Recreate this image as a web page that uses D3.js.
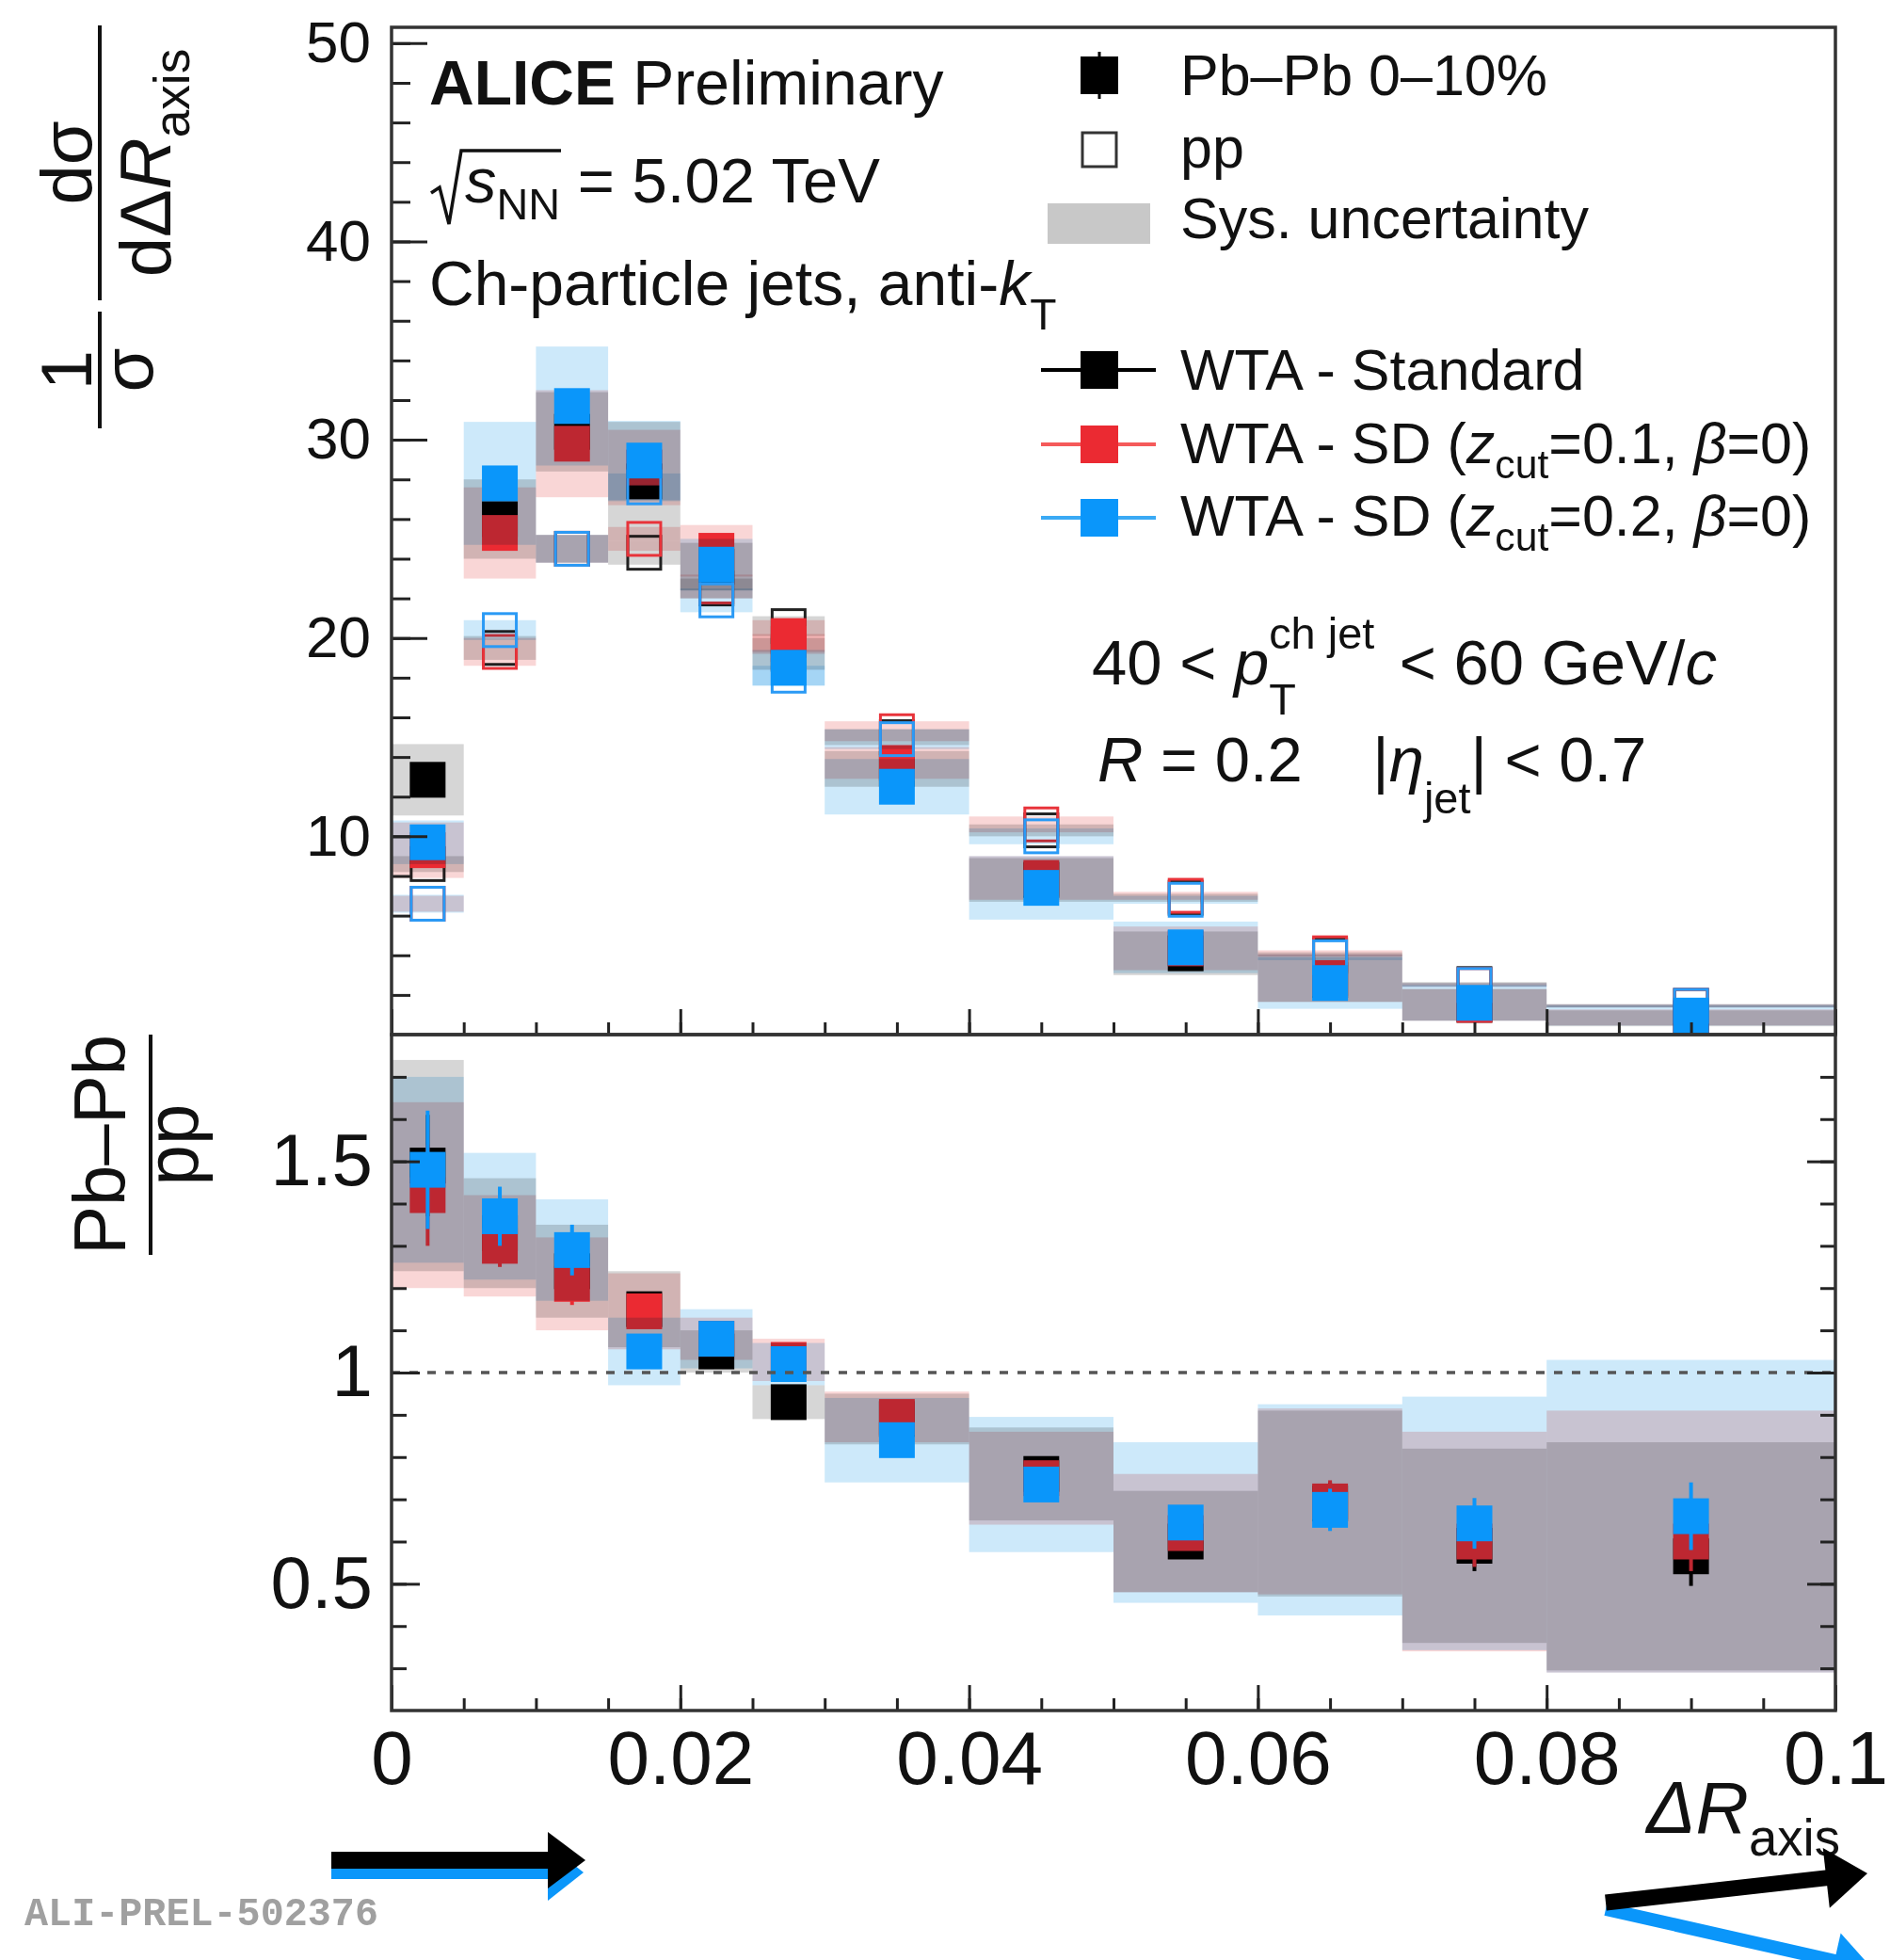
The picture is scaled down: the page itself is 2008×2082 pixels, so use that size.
<!DOCTYPE html>
<html>
<head>
<meta charset="utf-8">
<script src="https://cdn.jsdelivr.net/npm/d3@7"></script>
<style>
  body { margin: 0; background: #fff; }
  svg text { font-family: "Liberation Sans", Arial, Helvetica, sans-serif; fill: #111; white-space: pre; }
</style>
</head>
<body>
<script>
// bin edges in Delta R_axis
var binEdges = [0, 0.005, 0.01, 0.015, 0.02, 0.025, 0.03, 0.04, 0.05, 0.06, 0.07, 0.08, 0.1];

// Pb-Pb 0-10% distributions (1/sigma dsigma/dDeltaR)
var pbpbStd = [12.85, 26.0, 30.4, 27.9, 23.6, 19.2, 13.4, 7.8, 4.1, 2.75, 1.5, 0.82];
var pbpbSD1 = [9.3, 25.3, 29.8, 28.6, 24.4, 20.1, 13.7, 7.9, 4.35, 2.85, 1.5, 0.87];
var pbpbSD2 = [9.7, 27.8, 31.7, 28.95, 23.7, 18.5, 12.5, 7.4, 4.4, 2.6, 1.6, 0.96];
var pbpbStdSys = [1.8, 2.0, 2.0, 3.0, 1.2, 0.8, 0.9, 1.1, 1.1, 1.1, 0.8, 0.4];
var pbpbSD1Sys = [1.4, 2.3, 2.7, 1.9, 1.3, 0.8, 0.8, 1.1, 1.1, 1.2, 0.8, 0.4];
var pbpbSD2Sys = [1.1, 3.1, 3.0, 2.0, 1.3, 0.9, 1.4, 1.6, 1.3, 1.3, 0.9, 0.5];

// pp distributions
var ppStd = [8.6, 19.5, 24.5, 24.3, 22.5, 20.6, 15.0, 10.3, 6.9, 4.0, 2.55, 1.45];
var ppSD1 = [6.6, 19.3, 24.5, 25.0, 22.6, 19.7, 15.3, 10.6, 7.0, 4.1, 2.5, 1.45];
var ppSD2 = [6.6, 20.4, 24.5, 27.6, 21.9, 18.1, 14.9, 10.0, 6.8, 3.9, 2.5, 1.45];
var ppStdSys = [0.4, 0.6, 0.7, 0.6, 0.5, 0.5, 0.4, 0.3, 0.2, 0.15, 0.1, 0.08];
var ppSD1Sys = [0.4, 0.7, 0.7, 0.6, 0.6, 0.5, 0.5, 0.4, 0.2, 0.15, 0.1, 0.08];
var ppSD2Sys = [0.45, 0.5, 0.7, 0.7, 0.6, 0.5, 0.5, 0.4, 0.2, 0.15, 0.1, 0.08];

// Pb-Pb / pp ratios
var ratioStd = [1.49, 1.33, 1.24, 1.15, 1.05, 0.93, 0.89, 0.76, 0.60, 0.69, 0.59, 0.565];
var ratioSD1 = [1.42, 1.30, 1.21, 1.145, 1.08, 1.03, 0.895, 0.75, 0.62, 0.695, 0.60, 0.60];
var ratioSD2 = [1.48, 1.37, 1.29, 1.05, 1.08, 1.02, 0.84, 0.735, 0.645, 0.675, 0.643, 0.66];
var ratioStdSys = [0.25, 0.13, 0.11, 0.09, 0.05, 0.04, 0.06, 0.11, 0.12, 0.22, 0.23, 0.27];
var ratioSD1Sys = [0.22, 0.12, 0.11, 0.09, 0.05, 0.05, 0.06, 0.11, 0.14, 0.22, 0.26, 0.31];
var ratioSD2Sys = [0.22, 0.15, 0.12, 0.08, 0.07, 0.05, 0.10, 0.16, 0.19, 0.25, 0.30, 0.37];
var ratioStdStat = [0.12, 0.05, 0.05, 0.03, 0.02, 0.02, 0.02, 0.03, 0.04, 0.05, 0.06, 0.07];
var ratioSD1Stat = [0.12, 0.05, 0.05, 0.03, 0.02, 0.02, 0.02, 0.03, 0.04, 0.05, 0.06, 0.07];
var ratioSD2Stat = [0.14, 0.07, 0.06, 0.03, 0.02, 0.02, 0.02, 0.03, 0.04, 0.05, 0.06, 0.08];

// tick labels
var xTickLabels = [0, 0.02, 0.04, 0.06, 0.08, 0.1];
var yTopTickLabels = [10, 20, 30, 40, 50];
var yRatTickLabels = [0.5, 1, 1.5];

var W = 2008, H = 2082;
var frame = { left: 416, right: 1950, top: 29, mid: 1099, bottom: 1817 };
var M = 38; // marker size

var x = d3.scaleLinear().domain([0, 0.1]).range([frame.left, frame.right]);
var yTop = d3.scaleLinear().domain([0, 50.8]).range([frame.mid, frame.top]);
var yRat = d3.scaleLinear().domain([0.2, 1.8]).range([frame.bottom, frame.mid]);

var series = [
  { color: "#000000", open: "#222222", sys: "#d6d6d6",
    pbpb: pbpbStd, pbpbSys: pbpbStdSys, pp: ppStd, ppSys: ppStdSys,
    ratio: ratioStd, ratioSys: ratioStdSys, ratioStat: ratioStdStat },
  { color: "#eb2a32", open: "#e8333a", sys: "#f9d6d6",
    pbpb: pbpbSD1, pbpbSys: pbpbSD1Sys, pp: ppSD1, ppSys: ppSD1Sys,
    ratio: ratioSD1, ratioSys: ratioSD1Sys, ratioStat: ratioSD1Stat },
  { color: "#0a96fa", open: "#2a9af5", sys: "#cde9fa",
    pbpb: pbpbSD2, pbpbSys: pbpbSD2Sys, pp: ppSD2, ppSys: ppSD2Sys,
    ratio: ratioSD2, ratioSys: ratioSD2Sys, ratioStat: ratioSD2Stat }
];

var svg = d3.select("body").append("svg")
  .attr("width", W).attr("height", H)
  .style("background", "#fff");

var defs = svg.append("defs");
defs.append("clipPath").attr("id", "clipTop").append("rect")
  .attr("x", frame.left).attr("y", frame.top)
  .attr("width", frame.right - frame.left).attr("height", frame.mid - frame.top);
defs.append("clipPath").attr("id", "clipBot").append("rect")
  .attr("x", frame.left).attr("y", frame.mid)
  .attr("width", frame.right - frame.left).attr("height", frame.bottom - frame.mid);

var topLayer = svg.append("g").attr("clip-path", "url(#clipTop)");
var botLayer = svg.append("g").attr("clip-path", "url(#clipBot)");

var idx = d3.range(binEdges.length - 1);
function binX(i) { return x(binEdges[i]); }
function binW(i) { return x(binEdges[i + 1]) - x(binEdges[i]); }
function binC(i) { return x((binEdges[i] + binEdges[i + 1]) / 2); }

function sysBoxes(layer, y, vals, errs, color) {
  layer.append("g").selectAll("rect").data(idx).join("rect")
    .attr("x", binX).attr("width", binW)
    .attr("y", i => y(vals[i] + errs[i]))
    .attr("height", i => y(vals[i] - errs[i]) - y(vals[i] + errs[i]))
    .attr("fill", color)
    .style("mix-blend-mode", "multiply");
}

function filledMarkers(layer, y, vals, color, stat) {
  var g = layer.append("g");
  if (stat) {
    g.selectAll("line").data(idx).join("line")
      .attr("x1", binC).attr("x2", binC)
      .attr("y1", i => y(vals[i] + stat[i])).attr("y2", i => y(vals[i] - stat[i]))
      .attr("stroke", color).attr("stroke-width", 4);
  }
  g.selectAll("rect").data(idx).join("rect")
    .attr("x", i => binC(i) - M / 2).attr("y", i => y(vals[i]) - M / 2)
    .attr("width", M).attr("height", M)
    .attr("fill", color);
}

function openMarkers(layer, y, vals, color) {
  layer.append("g").selectAll("rect").data(idx).join("rect")
    .attr("x", i => binC(i) - M / 2 + 1.5).attr("y", i => y(vals[i]) - M / 2 + 1.5)
    .attr("width", M - 3).attr("height", M - 3)
    .attr("fill", "none").attr("stroke", color).attr("stroke-width", 3);
}

series.forEach(function (s) {
  sysBoxes(topLayer, yTop, s.pp, s.ppSys, s.sys);
  sysBoxes(topLayer, yTop, s.pbpb, s.pbpbSys, s.sys);
  openMarkers(topLayer, yTop, s.pp, s.open);
  filledMarkers(topLayer, yTop, s.pbpb, s.color, null);
  sysBoxes(botLayer, yRat, s.ratio, s.ratioSys, s.sys);
  filledMarkers(botLayer, yRat, s.ratio, s.color, s.ratioStat);
});

// unity line
svg.append("line")
  .attr("x1", frame.left).attr("x2", frame.right)
  .attr("y1", yRat(1)).attr("y2", yRat(1))
  .attr("stroke", "#555").attr("stroke-width", 3.5).attr("stroke-dasharray", "9,10");

// ---------- axes ----------
function styleAxis(g, size) {
  g.select(".domain").remove();
  g.selectAll(".tick line").attr("stroke", "#222").attr("stroke-width", 3);
  g.selectAll(".tick text")
    .attr("font-family", "'Liberation Sans', Arial, sans-serif")
    .attr("font-size", size);
  g.attr("font-family", null);
}

var xMinor = d3.range(0, 0.1001, 0.005);
var fmt = d => String(+d.toFixed(3));

// upper panel bottom ticks (no labels)
svg.append("g").attr("transform", `translate(0,${frame.mid})`)
  .call(d3.axisBottom(x).tickValues(xTickLabels).tickSize(-27).tickFormat(""))
  .call(g => styleAxis(g, 0));
svg.append("g").attr("transform", `translate(0,${frame.mid})`)
  .call(d3.axisBottom(x).tickValues(xMinor).tickSize(-13).tickFormat(""))
  .call(g => styleAxis(g, 0));

// lower panel bottom axis
svg.append("g").attr("transform", `translate(0,${frame.bottom})`)
  .call(d3.axisBottom(x).tickValues(xTickLabels).tickSize(-27).tickPadding(21).tickFormat(fmt))
  .call(g => styleAxis(g, 80));
svg.append("g").attr("transform", `translate(0,${frame.bottom})`)
  .call(d3.axisBottom(x).tickValues(xMinor).tickSize(-13).tickFormat(""))
  .call(g => styleAxis(g, 0));

// upper y axis
svg.append("g").attr("transform", `translate(${frame.left},0)`)
  .call(d3.axisLeft(yTop).tickValues(yTopTickLabels).tickSize(-38).tickPadding(22).tickFormat(fmt))
  .call(g => styleAxis(g, 62));
svg.append("g").attr("transform", `translate(${frame.left},0)`)
  .call(d3.axisLeft(yTop).tickValues(d3.range(2, 50.1, 2)).tickSize(-20).tickFormat(""))
  .call(g => styleAxis(g, 0));

// lower y axis (left + right)
var yRatMinor = d3.range(3, 18).map(d => d / 10);
svg.append("g").attr("transform", `translate(${frame.left},0)`)
  .call(d3.axisLeft(yRat).tickValues(yRatTickLabels).tickSize(-30).tickPadding(20).tickFormat(fmt))
  .call(g => styleAxis(g, 78));
svg.append("g").attr("transform", `translate(${frame.left},0)`)
  .call(d3.axisLeft(yRat).tickValues(yRatMinor).tickSize(-16).tickFormat(""))
  .call(g => styleAxis(g, 0));
svg.append("g").attr("transform", `translate(${frame.right},0)`)
  .call(d3.axisRight(yRat).tickValues(yRatTickLabels).tickSize(-30).tickFormat(""))
  .call(g => styleAxis(g, 0));
svg.append("g").attr("transform", `translate(${frame.right},0)`)
  .call(d3.axisRight(yRat).tickValues(yRatMinor).tickSize(-16).tickFormat(""))
  .call(g => styleAxis(g, 0));

// frames
svg.append("rect").attr("x", frame.left).attr("y", frame.top)
  .attr("width", frame.right - frame.left).attr("height", frame.mid - frame.top)
  .attr("fill", "none").attr("stroke", "#333").attr("stroke-width", 3.5);
svg.append("rect").attr("x", frame.left).attr("y", frame.mid)
  .attr("width", frame.right - frame.left).attr("height", frame.bottom - frame.mid)
  .attr("fill", "none").attr("stroke", "#333").attr("stroke-width", 3.5);

// ---------- rich text helper ----------
function rich(parent, runs, size) {
  var g = parent.append("g");
  var cx = 0;
  runs.forEach(function (r) {
    if (r.sub !== undefined || r.sup !== undefined) {
      var w = 0, ss = size * 0.7;
      if (r.sup) {
        var ts = g.append("text").attr("x", cx).attr("y", -(r.supDy || size * 0.5))
          .attr("font-size", ss).text(r.sup);
        w = Math.max(w, ts.node().getComputedTextLength());
      }
      if (r.sub) {
        var tb = g.append("text").attr("x", cx).attr("y", r.subDy || size * 0.3)
          .attr("font-size", ss).text(r.sub);
        w = Math.max(w, tb.node().getComputedTextLength());
      }
      cx += w + (r.gap || 0);
    } else {
      var t = g.append("text").attr("x", cx).attr("y", 0).attr("font-size", size).text(r.t);
      if (r.it) t.attr("font-style", "italic");
      if (r.bold) t.attr("font-weight", "bold");
      cx += t.node().getComputedTextLength();
    }
  });
  return { g: g, width: cx };
}
function place(parent, px, py, runs, size, anchor) {
  var r = rich(parent, runs, size);
  var dx = anchor === "end" ? -r.width : anchor === "middle" ? -r.width / 2 : 0;
  r.g.attr("transform", `translate(${px + dx},${py})`);
  return r;
}

// ---------- annotations in the plot ----------
place(svg, 456, 111, [{ t: "ALICE", bold: true }, { t: " Preliminary" }], 66);

// sqrt(s_NN)
svg.append("path")
  .attr("d", "M458,205 L467,199 L477,238 L490,160 L596,160")
  .attr("fill", "none").attr("stroke", "#111").attr("stroke-width", 3.5)
  .attr("stroke-linejoin", "miter");
place(svg, 494, 215, [{ t: "s", it: true }, { sub: "NN", subDy: 18 }, { t: " = 5.02 TeV" }], 67);

place(svg, 456, 324, [{ t: "Ch-particle jets, anti-" }, { t: "k", it: true }, { sub: "T", subDy: 26 }], 66);

place(svg, 1160, 727, [{ t: "40 < " }, { t: "p", it: true },
  { sup: "ch jet", sub: "T", supDy: 38, subDy: 32, gap: 8 },
  { t: " < 60 GeV/" }, { t: "c", it: true }], 67);
place(svg, 1166, 830, [{ t: "R", it: true }, { t: " = 0.2    |" }, { t: "\u03b7", it: true },
  { sub: "jet", subDy: 34 }, { t: "| < 0.7" }], 67);

// ---------- legend ----------
var leg = svg.append("g");
leg.append("line").attr("x1", 1168).attr("x2", 1168).attr("y1", 55).attr("y2", 105)
  .attr("stroke", "#000").attr("stroke-width", 3);
leg.append("rect").attr("x", 1148).attr("y", 60).attr("width", 40).attr("height", 40).attr("fill", "#000");
leg.append("rect").attr("x", 1150).attr("y", 141).attr("width", 36).attr("height", 36)
  .attr("fill", "none").attr("stroke", "#333").attr("stroke-width", 3);
leg.append("rect").attr("x", 1113).attr("y", 216).attr("width", 109).attr("height", 43).attr("fill", "#c8c8c8");

var legLines = [
  { y: 393, line: "#000", fill: "#000" },
  { y: 472, line: "#f55a5a", fill: "#eb2a32" },
  { y: 550, line: "#3aaaf5", fill: "#0a96fa" }
];
legLines.forEach(function (d) {
  leg.append("line").attr("x1", 1106).attr("x2", 1228).attr("y1", d.y).attr("y2", d.y)
    .attr("stroke", d.line).attr("stroke-width", 4);
  leg.append("rect").attr("x", 1148).attr("y", d.y - 20).attr("width", 40).attr("height", 40)
    .attr("fill", d.fill);
});

place(leg, 1254, 101, [{ t: "Pb\u2013Pb 0\u201310%" }], 61);
place(leg, 1254, 178, [{ t: "pp" }], 61);
place(leg, 1254, 253, [{ t: "Sys. uncertainty" }], 61);
place(leg, 1254, 414, [{ t: "WTA - Standard" }], 61);
place(leg, 1254, 492, [{ t: "WTA - SD (" }, { t: "z", it: true }, { sub: "cut", subDy: 16 },
  { t: "=0.1, " }, { t: "\u03b2", it: true }, { t: "=0)" }], 61);
place(leg, 1254, 569, [{ t: "WTA - SD (" }, { t: "z", it: true }, { sub: "cut", subDy: 16 },
  { t: "=0.2, " }, { t: "\u03b2", it: true }, { t: "=0)" }], 61);

// ---------- axis titles ----------
// x title
place(svg, 1955, 1947, [{ t: "\u0394", it: true }, { t: "R", it: true }, { sub: "axis", subDy: 24 }], 78, "end");

// upper y title: 1/sigma dsigma/dDeltaR_axis (rotated)
var fa = svg.append("g").attr("transform", "translate(106,173) rotate(-90)");
fa.append("line").attr("x1", -146).attr("x2", 146).attr("y1", 0).attr("y2", 0)
  .attr("stroke", "#111").attr("stroke-width", 4);
place(fa, 0, -9, [{ t: "d\u03c3" }], 76, "middle");
place(fa, 0, 75, [{ t: "d\u0394" }, { t: "R", it: true }, { sub: "axis", subDy: 20 }], 76, "middle");

var fb = svg.append("g").attr("transform", "translate(106,393) rotate(-90)");
fb.append("line").attr("x1", -62).attr("x2", 62).attr("y1", 0).attr("y2", 0)
  .attr("stroke", "#111").attr("stroke-width", 4);
place(fb, 0, -9, [{ t: "1" }], 76, "middle");
place(fb, 0, 56, [{ t: "\u03c3" }], 76, "middle");

// lower y title: Pb-Pb / pp
var fc = svg.append("g").attr("transform", "translate(160,1216) rotate(-90)");
fc.append("line").attr("x1", -117).attr("x2", 117).attr("y1", 0).attr("y2", 0)
  .attr("stroke", "#111").attr("stroke-width", 4);
place(fc, 0, -27, [{ t: "Pb\u2013Pb" }], 78, "middle");
place(fc, 0, 50, [{ t: "pp" }], 78, "middle");

// ---------- preliminary tag ----------
svg.append("text").attr("x", 26).attr("y", 2045)
  .attr("font-size", 42).attr("font-weight", "bold")
  .style("font-family", "'Liberation Mono', 'DejaVu Sans Mono', monospace")
  .style("fill", "#a0a0a0")
  .attr("textLength", 376).attr("lengthAdjust", "spacingAndGlyphs")
  .text("ALI-PREL-502376");

// ---------- arrows ----------
function arrow(x1, y1, x2, y2, color, width, headLen, headHalf) {
  var a = Math.atan2(y2 - y1, x2 - x1);
  var bx = x2 - headLen * Math.cos(a), by = y2 - headLen * Math.sin(a);
  svg.append("line").attr("x1", x1).attr("y1", y1).attr("x2", bx + 2 * Math.cos(a)).attr("y2", by + 2 * Math.sin(a))
    .attr("stroke", color).attr("stroke-width", width);
  var px = -Math.sin(a), py = Math.cos(a);
  svg.append("path")
    .attr("d", `M${x2},${y2} L${bx + headHalf * px},${by + headHalf * py} L${bx - headHalf * px},${by - headHalf * py} Z`)
    .attr("fill", color);
}
arrow(352, 1989, 620, 1989, "#0a96fa", 14, 38, 30);
arrow(352, 1976, 622, 1976, "#000", 18, 40, 30);
arrow(1706, 2028, 1990, 2092, "#0a96fa", 14, 42, 30);
arrow(1706, 2021, 1984, 1990, "#000", 17, 44, 32);
</script>
</body>
</html>
